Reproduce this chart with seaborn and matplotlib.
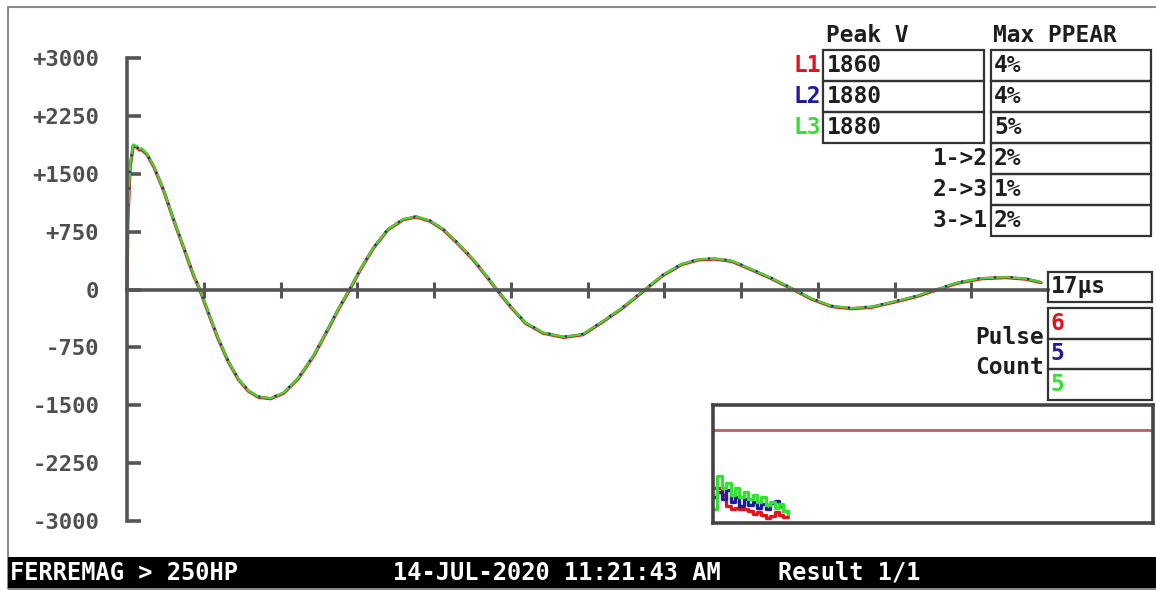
"""
Surge test screen recreation: three-phase ringing waveform with the
peak / PPEAR tables, pulse counts and the small pulse history inset.
"""

import matplotlib
matplotlib.use("Agg")
import matplotlib.pyplot as plt
from matplotlib.patches import Rectangle
import seaborn as sns

# ==============================================================================
# --- DATA ---
# ==============================================================================

# time axis in screen divisions (12 divisions across the trace)
T_DIV = [0.00, 0.01, 0.04, 0.08, 0.12, 0.16, 0.19, 0.26, 0.35, 0.48,
         0.61, 0.74, 0.87, 0.95, 1.06, 1.19, 1.32, 1.45, 1.58, 1.71,
         1.87, 2.04, 2.23, 2.43, 2.62, 2.75, 2.90, 3.04, 3.21, 3.40,
         3.60, 3.77, 3.95, 4.12, 4.31, 4.51, 4.68, 4.82, 4.99, 5.19,
         5.42, 5.69, 5.94, 6.19, 6.45, 6.75, 6.97, 7.23, 7.45, 7.66,
         7.88, 8.14, 8.40, 8.69, 8.92, 9.18, 9.44, 9.70, 10.03, 10.29,
         10.55, 10.81, 11.13, 11.45, 11.71, 11.91]

L1_V = [0, 880, 1580, 1860, 1850, 1810, 1815, 1750, 1590, 1275,
        895, 535, 175, -5, -305, -645, -935, -1165, -1315, -1395,
        -1415, -1345, -1155, -865, -515, -265, -5, 255, 535, 775,
        905, 940, 885, 775, 595, 385, 175, -5, -215, -435,
        -565, -620, -585, -425, -245, -5, 175, 325, 385, 395,
        365, 255, 140, -5, -125, -220, -248, -230, -155, -90,
        -5, 80, 140, 155, 135, 90]

L2_V = [0, 890, 1590, 1880, 1855, 1815, 1825, 1755, 1595, 1285,
        905, 545, 185, 5, -295, -635, -925, -1155, -1305, -1385,
        -1405, -1335, -1145, -855, -505, -255, 5, 265, 545, 785,
        915, 950, 895, 785, 605, 395, 185, 5, -205, -425,
        -555, -610, -575, -415, -235, 5, 185, 335, 395, 405,
        375, 265, 150, 5, -115, -210, -238, -220, -145, -80,
        5, 90, 150, 165, 145, 100]

L3_V = [0, 900, 1600, 1880, 1860, 1820, 1830, 1760, 1600, 1280,
        900, 540, 180, 0, -300, -640, -930, -1160, -1310, -1390,
        -1410, -1340, -1150, -860, -510, -260, 0, 260, 540, 780,
        910, 945, 890, 780, 600, 390, 180, 0, -210, -430,
        -560, -615, -580, -420, -240, 0, 180, 330, 390, 400,
        370, 260, 145, 0, -120, -215, -243, -225, -150, -85,
        0, 85, 145, 160, 140, 95]

Y_TICKS = [3000, 2250, 1500, 750, 0, -750, -1500, -2250, -3000]
Y_TICK_LABELS = ["+3000", "+2250", "+1500", "+750", "0",
                 "-750", "-1500", "-2250", "-3000"]
X_TICKS = [1, 2, 3, 4, 5, 6, 7, 8, 9, 10, 11]

PHASES = ["L1", "L2", "L3"]
PEAK_V = ["1860", "1880", "1880"]
PPEAR_LABELS = ["", "", "", "1->2", "2->3", "3->1"]
PPEAR = ["4%", "4%", "5%", "2%", "1%", "2%"]
TIME_SPAN = "17µs"
PULSE_COUNT = ["6", "5", "5"]

# pulse history inset (percent of inset width / height)
INSET_X = [0, 1, 2, 3, 4, 5, 6, 7, 8, 9, 10, 11, 12, 13, 14, 15, 16, 17]
INSET_L1 = [30, 30, 24, 14, 12, 13, 12, 12, 10, 8, 9, 7, 4, 6, 9, 7, 5, 5]
INSET_L2 = [22, 26, 20, 28, 18, 22, 14, 20, 15, 18, 13, 16, 12, 17, 19, 14, 10, 8]
INSET_L3 = [12, 40, 30, 34, 24, 30, 22, 26, 20, 24, 18, 22, 15, 18, 13, 16, 10, 8]
INSET_LIMIT = 79

FOOTER = ["FERREMAG > 250HP", "14-JUL-2020 11:21:43 AM", "Result 1/1"]

# ==============================================================================
# --- STYLE ---
# ==============================================================================
RED = "#e3121b"
BLUE = "#1c1c9c"
GREEN = "#35e035"
PHASE_COLORS = [RED, BLUE, GREEN]
AXIS_GRAY = "#555555"
INK = "#1e1e1e"

sns.set_theme(style="white")
plt.rcParams["font.family"] = ["DejaVu Sans Mono"]
plt.rcParams["font.weight"] = "bold"

W, H = 1156, 590


def fx(x):
    return x / W


def fy(y):
    return 1 - y / H


def box(fig, x0, y0, x1, y1, color="#333333", lw=1.6, fill=False, fc="white"):
    fig.add_artist(Rectangle((fx(x0), fy(y1)), fx(x1) - fx(x0), fy(y0) - fy(y1),
                             transform=fig.transFigure, fill=fill, facecolor=fc,
                             edgecolor=color, linewidth=lw))


def label(fig, x, y, s, ha="left", color=INK, size=16.5):
    fig.text(fx(x), fy(y), s, ha=ha, va="center", fontsize=size, color=color,
             fontweight="bold")


fig = plt.figure(figsize=(11.56, 5.9), dpi=100)
fig.patch.set_facecolor("white")

# outer screen frame
box(fig, 8, 7, 1162, 589, color="#8a8a8a", lw=1.5)

# ==============================================================================
# --- MAIN WAVEFORM ---
# ==============================================================================
ax = fig.add_axes([fx(127), fy(521), fx(1048) - fx(127), fy(58) - fy(521)])
ax.set_facecolor("none")

sns.lineplot(x=T_DIV, y=L1_V, ax=ax, color=RED, linewidth=2.4,
             estimator=None, clip_on=False)
sns.lineplot(x=T_DIV, y=L3_V, ax=ax, color=GREEN, linewidth=1.6,
             estimator=None, clip_on=False)
sns.lineplot(x=T_DIV, y=L2_V, ax=ax, color=BLUE, linewidth=1.5,
             linestyle=(0, (1, 7)), estimator=None, clip_on=False)

ax.set_xlim(0, 12)
ax.set_ylim(-3000, 3000)
for side in ["top", "right"]:
    ax.spines[side].set_visible(False)
ax.spines["left"].set_position(("data", 0))
ax.spines["bottom"].set_position(("data", 0))
ax.spines["left"].set_bounds(-3000, 3000)
ax.spines["bottom"].set_bounds(0, 12)
for side in ["left", "bottom"]:
    ax.spines[side].set_color(AXIS_GRAY)
    ax.spines[side].set_linewidth(2.6)

ax.set_yticks(Y_TICKS)
ax.set_yticklabels(Y_TICK_LABELS)
ax.set_xticks(X_TICKS)
ax.set_xticklabels([])
ax.tick_params(axis="y", left=True, direction="in", length=10, width=2.6,
               color=AXIS_GRAY, pad=20, labelsize=16, labelcolor="#4f4f4f")
ax.tick_params(axis="x", bottom=True, direction="inout", length=12, width=2.2,
               color=AXIS_GRAY)
ax.set_xlabel("")
ax.set_ylabel("")
ax.grid(False)

# ==============================================================================
# --- TABLES ---
# ==============================================================================
ROW = 31
label(fig, 826, 35, "Peak V")
label(fig, 993, 35, "Max PPEAR")

for i, (name, val) in enumerate(zip(PHASES, PEAK_V)):
    top = 50 + i * ROW
    box(fig, 823, top, 984, top + ROW)
    label(fig, 821, top + ROW / 2, name, ha="right", color=PHASE_COLORS[i])
    label(fig, 827, top + ROW / 2, val)

for i, (name, val) in enumerate(zip(PPEAR_LABELS, PPEAR)):
    top = 50 + i * ROW
    box(fig, 991, top, 1151, top + ROW)
    if name:
        label(fig, 988, top + ROW / 2, name, ha="right")
    label(fig, 994, top + ROW / 2, val)

box(fig, 1048, 272, 1152, 302)
label(fig, 1051, 287, TIME_SPAN)

for i, val in enumerate(PULSE_COUNT):
    top = 308 + i * 30.7
    box(fig, 1048, top, 1152, top + 30.7)
    label(fig, 1050, top + 15, val, color=PHASE_COLORS[i])
label(fig, 1044, 337, "Pulse", ha="right")
label(fig, 1044, 367, "Count", ha="right")

# ==============================================================================
# --- PULSE HISTORY INSET ---
# ==============================================================================
ins = fig.add_axes([fx(713), fy(523), fx(1153) - fx(713), fy(405) - fy(523)])
ins.set_facecolor("white")
ins.axhline(INSET_LIMIT, color="#c25a66", linewidth=2)
for vals, col in zip([INSET_L1, INSET_L2, INSET_L3], PHASE_COLORS):
    sns.lineplot(x=INSET_X, y=vals, ax=ins, color=col, linewidth=2.4,
                 drawstyle="steps-post", estimator=None)
ins.set_xlim(0, 100)
ins.set_ylim(0, 100)
ins.set_xticks([])
ins.set_yticks([])
ins.set_xlabel("")
ins.set_ylabel("")
for sp in ins.spines.values():
    sp.set_color("#444444")
    sp.set_linewidth(2.6)

# ==============================================================================
# --- FOOTER BAR ---
# ==============================================================================
box(fig, 8, 557, 1162, 588, color="black", lw=0, fill=True, fc="black")
fig.text(fx(10), fy(573), FOOTER[0], ha="left", va="center", fontsize=17,
         color="white", fontweight="bold")
fig.text(fx(393), fy(573), FOOTER[1], ha="left", va="center", fontsize=17,
         color="white", fontweight="bold")
fig.text(fx(778), fy(573), FOOTER[2], ha="left", va="center", fontsize=17,
         color="white", fontweight="bold")

fig.savefig("out.png", dpi=100)
